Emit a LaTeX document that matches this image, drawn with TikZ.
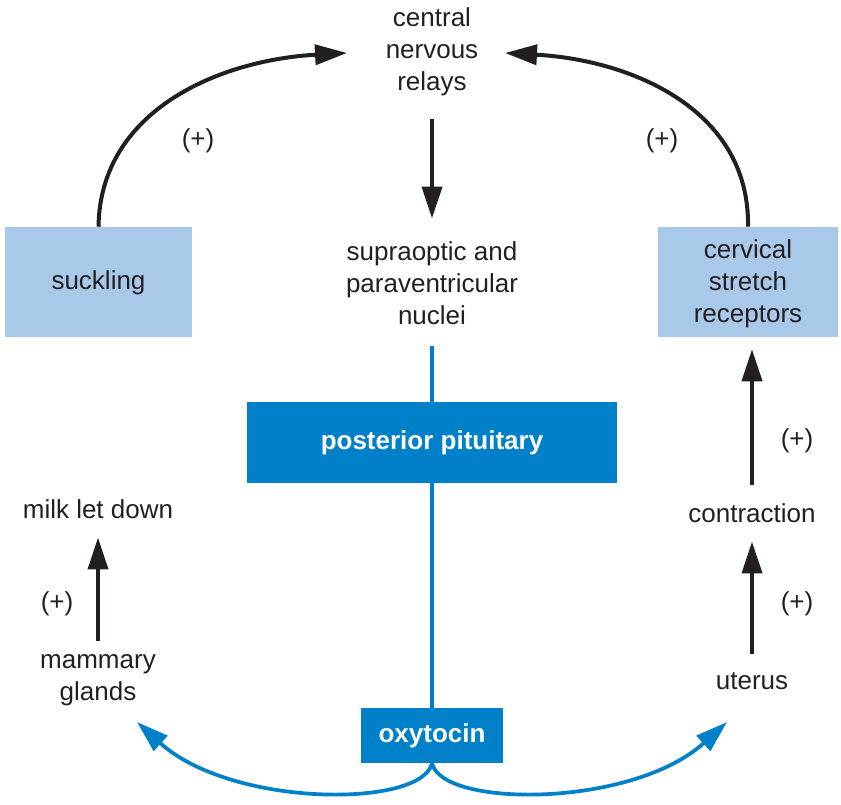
\documentclass[tikz,border=0pt]{standalone}
\usepackage{fontspec}
\setmainfont{Liberation Sans}
\usetikzlibrary{arrows.meta}
\definecolor{dblue}{HTML}{0080C8}
\definecolor{lblue}{HTML}{A9C9E8}
\definecolor{txt}{HTML}{231F20}
\newcommand{\boxtext}[2]{\smash{\raisebox{#1}{\begin{tabular}[t]{@{}c@{}}#2\end{tabular}}}}
\begin{document}
\begin{tikzpicture}[x=0.75pt,y=-0.75pt,
  font=\fontsize{19.5}{24}\selectfont,
  lbl/.style={text=txt,align=center,inner sep=0pt},
  lbox/.style={fill=lblue,draw=none,text=txt,inner sep=0pt},
  dbox/.style={fill=dblue,draw=none,text=white,font=\fontsize{19.5}{24}\selectfont\bfseries,inner sep=0pt},
  blk/.style={draw=txt,line width=3pt,-{Triangle[length=24pt,width=15pt]}},
  bln/.style={draw=dblue,line width=2.6pt},
  blarr/.style={draw=dblue,line width=2.8pt,-{Triangle[length=24pt,width=15pt]}},
  plus/.style={text=txt,inner sep=0pt}]
\useasboundingbox (0,0) rectangle (841,805);

% text nodes
\node[lbl] (cnr) at (432,52) {central\\nervous\\relays};
\node[lbl] (son) at (432,283) {supraoptic and\\paraventricular\\nuclei};
\node[lbox,minimum width=140.25pt,minimum height=82.5pt] (suck) at (98.5,282) {\boxtext{-5.6pt}{suckling}};
\node[lbox,minimum width=135pt,minimum height=82.5pt] (csr) at (748,282) {\boxtext{17.6pt}{cervical\\stretch\\receptors}};
\node[dbox,minimum width=277.5pt,minimum height=60.75pt] (pp) at (432,442.5) {\boxtext{-5.4pt}{posterior pituitary}};
\node[dbox,minimum width=106.5pt,minimum height=41.25pt] (oxy) at (432,735.5) {\boxtext{-5.2pt}{oxytocin}};
\node[lbl] (mld) at (98,509) {milk let down};
\node[lbl] (mg) at (98,680) {mammary\\glands};
\node[lbl] (con) at (752,513) {contraction};
\node[lbl] (ut) at (752,681) {uterus};

% labels
\node[plus] (p1) at (198,141) {(+)};
\node[plus] (p2) at (662,141) {(+)};
\node[plus] (p3) at (57,604) {(+)};
\node[plus] (p4) at (797,441) {(+)};
\node[plus] (p5) at (797,604) {(+)};

% coordinates
\coordinate (cnrL) at (347,53);
\coordinate (cnrR) at (505,53);
\coordinate (mgin) at (137,722);
\coordinate (utin) at (727,722);

% black arrows
\draw[blk,shorten <=17pt,shorten >=17pt] (cnr) -- (son);
\draw[blk] (suck.north) .. controls (100,110) and (220,60) .. (cnrL);
\draw[blk] (csr.north) .. controls (750,110) and (632,60) .. (cnrR);
\draw[blk,shorten <=10pt,shorten >=14pt] (mg) -- (mld);
\draw[blk,shorten <=14pt,shorten >=14pt] (ut) -- (con);
\draw[blk,shorten <=14pt,shorten >=9pt] (con) -- (con |- csr.south);

% blue
\draw[bln,shorten <=16pt] (son) -- (pp);
\draw[bln] (pp) -- (oxy);
\draw[blarr] (oxy.south) .. controls (422,808) and (232,808) .. (mgin);
\draw[blarr] (oxy.south) .. controls (442,808) and (632,808) .. (utin);
\end{tikzpicture}
\end{document}
